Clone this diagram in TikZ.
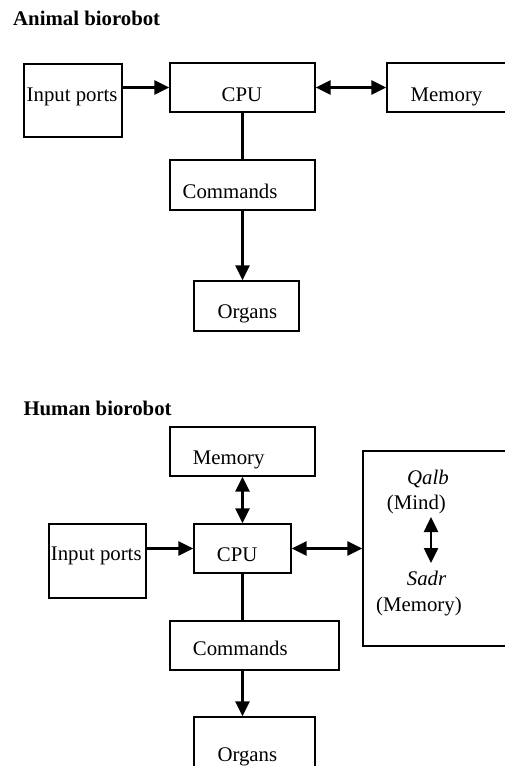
\documentclass[tikz,border=0pt]{standalone}
\usepackage{fontspec}
\setmainfont{Liberation Serif}
\usetikzlibrary{arrows.meta}

\begin{document}
\begin{tikzpicture}[x=1pt,y=-1pt,font=\fontsize{20.8}{25}\selectfont]
\useasboundingbox (0,0) rectangle (504,766);

\begin{scope}[every node/.style={draw,line width=1.3pt,inner sep=0pt}]
    % animal
    \node[minimum width=98pt,minimum height=73pt] (inA) at (73,100.5) {};
    \node[minimum width=145pt,minimum height=49pt] (cpuA) at (242.5,87.5) {};
    \node[minimum width=133pt,minimum height=49pt] (memA) at (453.5,87.5) {};
    \node[minimum width=145pt,minimum height=50pt] (cmdA) at (242.5,185) {};
    \node[minimum width=105pt,minimum height=50pt] (orgA) at (246.5,306) {};
    % human
    \node[minimum width=145pt,minimum height=49pt] (memH) at (242.5,451.5) {};
    \node[minimum width=97pt,minimum height=74pt] (inH) at (97.5,561) {};
    \node[minimum width=97pt,minimum height=49pt] (cpuH) at (242.5,548.5) {};
    \node[minimum width=157pt,minimum height=195pt] (soul) at (441.5,548.5) {};
    \node[minimum width=169pt,minimum height=49pt] (cmdH) at (254.5,645.5) {};
    \node[minimum width=121pt,minimum height=73pt] (orgH) at (254.5,753.5) {};
\end{scope}

\begin{scope}[every node/.style={anchor=base west,inner sep=0pt}]
    \node (titleA) at (13,25) {\textbf{Animal biorobot}};
    \node (tInA) at (26.5,101.5) {Input ports};
    \node (tCpuA) at (221.5,101.7) {CPU};
    \node (tMemA) at (410.5,101.7) {Memory};
    \node (tCmdA) at (182.5,198.3) {Commands};
    \node (tOrgA) at (217.3,318.3) {Organs};

    \node (titleH) at (23.3,415.7) {\textbf{Human biorobot}};
    \node (tMemH) at (192.7,464) {Memory};
    \node (tInH) at (50.7,560) {Input ports};
    \node (tCpuH) at (216.7,561) {CPU};
    \node (qalb) at (407,484.3) {\textit{Qalb}};
    \node (mind) at (386.7,509.3) {(Mind)};
    \node (sadr) at (406.7,585) {\textit{Sadr}};
    \node (memS) at (376,611.7) {(Memory)};
    \node (tCmdH) at (192.7,655) {Commands};
    \node (tOrgH) at (217.3,761.7) {Organs};
\end{scope}

\coordinate (mtop) at (431,517);
\coordinate (mbot) at (431,563);

\begin{scope}[>={Triangle[length=15pt,width=14pt]},
              every edge/.style={draw,line width=2.5pt}]
    \path [->] (inA.east |- cpuA) edge (cpuA.west);
    \path [<->] (cpuA.east) edge (memA.west);
    \path (cpuA.south) edge (cmdA.north);
    \path [->] (cmdA.south) edge (cmdA.south |- orgA.north);

    \path [<->] (memH.south) edge (cpuH.north);
    \path [->] (inH.east |- cpuH) edge (cpuH.west);
    \path [<->] (cpuH.east) edge (soul.west);
    \path [<->] (mtop) edge (mbot);
    \path (cpuH.south) edge (cpuH.south |- cmdH.north);
    \path [->] (cpuH.south |- cmdH.south) edge (cpuH.south |- orgH.north);
\end{scope}
\end{tikzpicture}
\end{document}
